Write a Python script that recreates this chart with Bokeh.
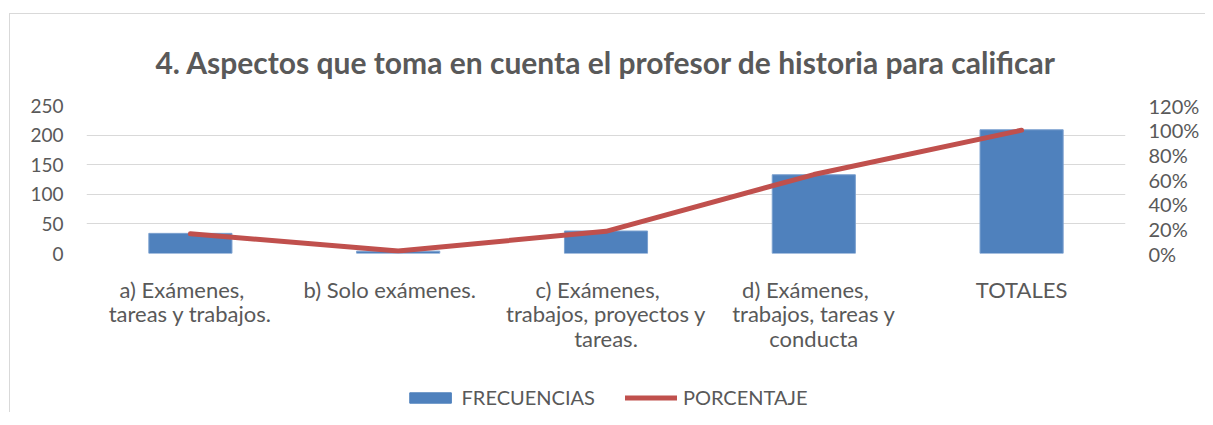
from bokeh.plotting import figure
from bokeh.layouts import column
from bokeh.models import (Range1d, LinearAxis, Legend, LegendItem, FactorRange,
                          NumeralTickFormatter, FixedTicker, ColumnDataSource)
from bokeh.embed import file_html
from bokeh.resources import INLINE

# ---- data ----
categories = [
    "a)    Exámenes,\ntareas y trabajos.",
    "b)    Solo exámenes.",
    "c)    Exámenes,\ntrabajos, proyectos y\ntareas.",
    "d)    Exámenes,\ntrabajos, tareas y\nconducta",
    "TOTALES",
]
frecuencias = [34, 4, 38, 133, 209]
porcentaje = [0.16, 0.02, 0.18, 0.64, 1.00]
left_ticks = [0, 50, 100, 150, 200, 250]
right_ticks = [0, 0.2, 0.4, 0.6, 0.8, 1.0, 1.2]
series_names = ["FRECUENCIAS", "PORCENTAJE"]
title_text = "4. Aspectos que toma en cuenta el profesor de historia para calificar"

FONT = "Lato"
TXT = "#595959"
GRID = "#d9d9d9"
BLUE = "#4F81BD"
RED = "#C0504D"

src = ColumnDataSource(dict(cat=categories, freq=frecuencias, pct=porcentaje))

p = figure(width=1195, height=348, x_range=FactorRange(*categories),
           y_range=Range1d(0, 250), output_backend="svg", toolbar_location=None,
           min_border_left=76, min_border_right=80, min_border_top=91,
           min_border_bottom=109)
p.outline_line_color = None
p.background_fill_color = "white"
p.border_fill_color = "white"

# title
p.title.text = title_text
p.title.align = "center"
p.title.text_font = FONT
p.title.text_font_size = "30px"
p.title.text_font_style = "bold"
p.title.text_color = TXT
p.title.text_line_height = 1.0
p.title.offset = 23
p.title.standoff = 52

# bars
bars = p.vbar(x="cat", top="freq", width=0.4, source=src,
              fill_color=BLUE, line_color="#7BA0CF", line_width=1)

# secondary axis
p.extra_y_ranges = {"pct": Range1d(0, 1.2)}
line = p.line(x="cat", y="pct", source=src, y_range_name="pct",
              line_color=RED, line_width=5, line_cap="round", line_join="round")

# axes styling
p.xgrid.grid_line_color = None
p.ygrid.grid_line_color = GRID
p.ygrid.grid_line_width = 1

yl = p.yaxis[0]
yl.ticker = FixedTicker(ticks=left_ticks)
yr = LinearAxis(y_range_name="pct", ticker=FixedTicker(ticks=right_ticks),
                formatter=NumeralTickFormatter(format="0%"))
p.add_layout(yr, "right")

for ax in [yl, yr, p.xaxis[0]]:
    ax.axis_line_color = None
    ax.major_tick_line_color = None
    ax.minor_tick_line_color = None
    ax.major_tick_out = 0
    ax.major_tick_in = 0
    ax.major_label_text_font = FONT
    ax.major_label_text_color = TXT
yl.major_label_text_font_size = "19px"
yr.major_label_text_font_size = "20px"
yl.major_label_standoff = 23
yr.major_label_standoff = 23
xa = p.xaxis[0]
xa.major_label_text_font_size = "22px"
xa.major_label_text_line_height = 0.92
xa.major_label_standoff = 22
xa.major_label_orientation = "horizontal"

# legend strip below the chart (same data, drawn outside its visible range)
lf = figure(width=1195, height=50, x_range=FactorRange(*categories),
            y_range=Range1d(2000, 2001), x_axis_type=None, y_axis_type=None,
            output_backend="svg", toolbar_location=None,
            min_border_left=29, min_border_right=0, min_border_top=20,
            min_border_bottom=0)
lf.outline_line_color = None
lf.grid.visible = False
lf.background_fill_color = "white"
lf.border_fill_color = "white"
lb = lf.vbar(x="cat", top="freq", width=0.4, source=src,
             fill_color=BLUE, line_color=BLUE)
ll = lf.line(x="cat", y="pct", source=src, line_color=RED, line_width=5,
             line_cap="round")

legend = Legend(items=[LegendItem(label=series_names[0], renderers=[lb]),
                       LegendItem(label=series_names[1], renderers=[ll])],
                orientation="horizontal", location="center")
legend.glyph_width = 52
legend.glyph_height = 13
legend.label_text_font = FONT
legend.label_text_font_size = "20px"
legend.label_text_color = TXT
legend.spacing = 30
legend.label_standoff = 6
legend.border_line_color = None
legend.background_fill_alpha = 0
legend.margin = 0
legend.padding = 5
lf.add_layout(legend, "center")

layout = column(p, lf, spacing=0)
layout.styles = {"border-left": "1px solid #d9d9d9", "border-top": "1px solid #d9d9d9",
                 "margin-left": "9px", "margin-top": "13px"}

open("out.html", "w").write(file_html(layout, INLINE))
